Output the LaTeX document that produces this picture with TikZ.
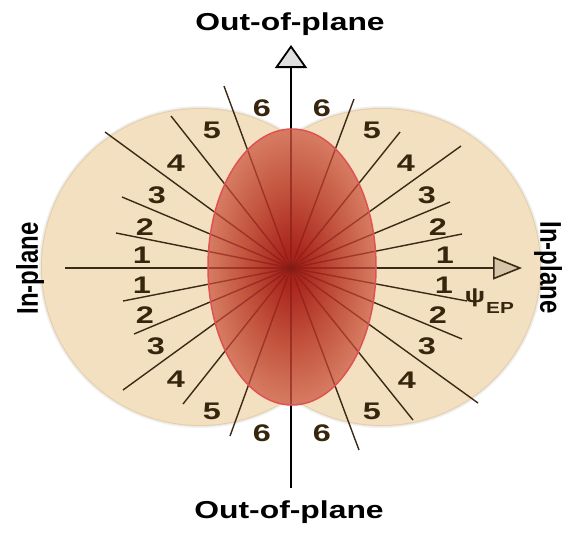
\documentclass[tikz,border=0pt]{standalone}
\usepackage{fontspec}
\setmainfont{Liberation Sans}
\usepackage{graphicx}
\usetikzlibrary{arrows.meta}
\definecolor{beige}{RGB}{243,224,192}
\definecolor{beigeedge}{RGB}{232,206,165}
\definecolor{txtbrown}{RGB}{55,38,14}
\definecolor{linebrown}{RGB}{58,42,22}
\definecolor{redin}{RGB}{170,36,28}
\definecolor{redmid}{RGB}{196,86,64}
\definecolor{redout}{RGB}{214,124,98}
\definecolor{redborder}{RGB}{224,82,82}
\definecolor{redline}{RGB}{130,28,20}
\pgfdeclareradialshading{ellshade}{\pgfpointorigin}{color(0bp)=(redin); color(3bp)=(redin); color(15bp)=(redmid); color(25bp)=(redout); color(50bp)=(redout)}
\newcommand\sx[2]{\scalebox{#1}[1]{#2}}
\newcommand\sy[2]{\scalebox{1}[#1]{#2}}
\begin{document}
\begin{tikzpicture}[x=1pt,y=-1pt,
  radline/.style={linebrown, line width=1.4pt},
  redover/.style={redline, opacity=0.6},
  num/.style={font=\fontsize{24}{24}\selectfont\bfseries, text=txtbrown, inner sep=0pt},
  axlabel/.style={font=\fontsize{24.5}{24.5}\selectfont\bfseries, text=black, inner sep=0pt},
  lobe/.style={radius=158pt}]
\useasboundingbox (0,0) rectangle (577,536);
% beige lobes
\coordinate (L) at (200,267);
\coordinate (R) at (382,267);
\draw[black!5, line width=6pt] (L) circle[lobe] (R) circle[lobe];
\draw[black!9, line width=3.5pt] (L) circle[lobe] (R) circle[lobe];
\draw[beigeedge, line width=2pt] (L) circle[lobe] (R) circle[lobe];
\fill[beige] (L) circle[lobe] (R) circle[lobe];
% centre and end points
\coordinate (O) at (291,268);
\foreach \n/\x/\y in {ula/116/233, ulb/122/197, ulc/105/132, uld/171/116, ule/224/86,
                      ura/462/234, urb/450/202, urc/461/146, urd/400/132, ure/354/99,
                      lla/123/301, llb/134/334, llc/123/390, lld/183/404, lle/230/436,
                      lra/467/301, lrb/462/339, lrc/478/403, lrd/413/420, lre/359/450}
  \coordinate (\n) at (\x,\y);
\coordinate (xL) at (65,268);
\coordinate (xR) at (522,268);
\coordinate (yB) at (291,488);
\coordinate (yT) at (291,45);
% radial lines
\foreach \n in {ula,ulb,ulc,uld,ule,ura,urb,urc,urd,ure,lla,llb,llc,lld,lle,lra,lrb,lrc,lrd,lre}
  \draw[radline] (O) -- (\n);
% axes
\draw[linebrown, line width=1.6pt, -{Triangle[length=29pt,width=23pt,fill=beige!88!black]}] (xL) -- (xR);
\draw[black, line width=1.8pt, -{Triangle[length=23pt,width=32pt,fill=black!12]}] (yB) -- (yT);
% red ellipse
\coordinate (E) at (292,267);
\shade[shading=ellshade] (E) ellipse[x radius=84pt, y radius=138pt];
\begin{scope}
  \clip (E) ellipse[x radius=84pt, y radius=138pt];
  \foreach \n in {ula,ulb,ulc,uld,ule,ura,urb,urc,urd,ure,lla,llb,llc,lld,lle,lra,lrb,lrc,lrd,lre}
    \draw[redover, line width=1.4pt] (O) -- (\n);
  \draw[redover, line width=1.6pt] (xL) -- (xR);
  \draw[redover, line width=1.8pt] (yB) -- (yT);
\end{scope}
\draw[redborder, line width=1.5pt] (E) ellipse[x radius=84pt, y radius=138pt];
% sector numbers
\foreach \n/\t/\x/\y in {
  a1/1/142/255, a2/2/145/227, a3/3/157/195, a4/4/176/163, a5/5/212/130, a6/6/262/108,
  b6/6/322/108, b5/5/372/130, b4/4/406/163, b3/3/427/195, b2/2/438/227, b1/1/445/255,
  c1/1/142/285, c2/2/145/315, c3/3/156/346, c4/4/176/379, c5/5/212/411, c6/6/262/433,
  d1/1/444/285, d2/2/438/315, d3/3/427/346, d4/4/407/380, d5/5/372/411, d6/6/322/433}
  \node[num] (\n) at (\x,\y) {\sx{1.35}{\t}};
% psi_EP
\node[font=\fontsize{21}{21}\selectfont\bfseries, text=txtbrown, inner sep=0pt] (psi) at (475,298) {\sx{1.3}{ψ}};
\node[font=\fontsize{16}{16}\selectfont\bfseries, text=txtbrown, inner sep=0pt] (ep) at (500,308) {\sx{1.3}{EP}};
% axis labels
\node[axlabel, anchor=base] (top) at (290,30.5) {\sx{1.3}{Out-of-plane}};
\node[axlabel, anchor=base] (bot) at (289,518) {\sx{1.3}{Out-of-plane}};
\node[axlabel, font=\fontsize{24}{24}\selectfont\bfseries, rotate=90] (inl) at (30,268.5) {\sy{1.25}{In-plane}};
\node[axlabel, font=\fontsize{24}{24}\selectfont\bfseries, rotate=-90] (inr) at (548,267.5) {\sy{1.25}{In-plane}};
\end{tikzpicture}
\end{document}
